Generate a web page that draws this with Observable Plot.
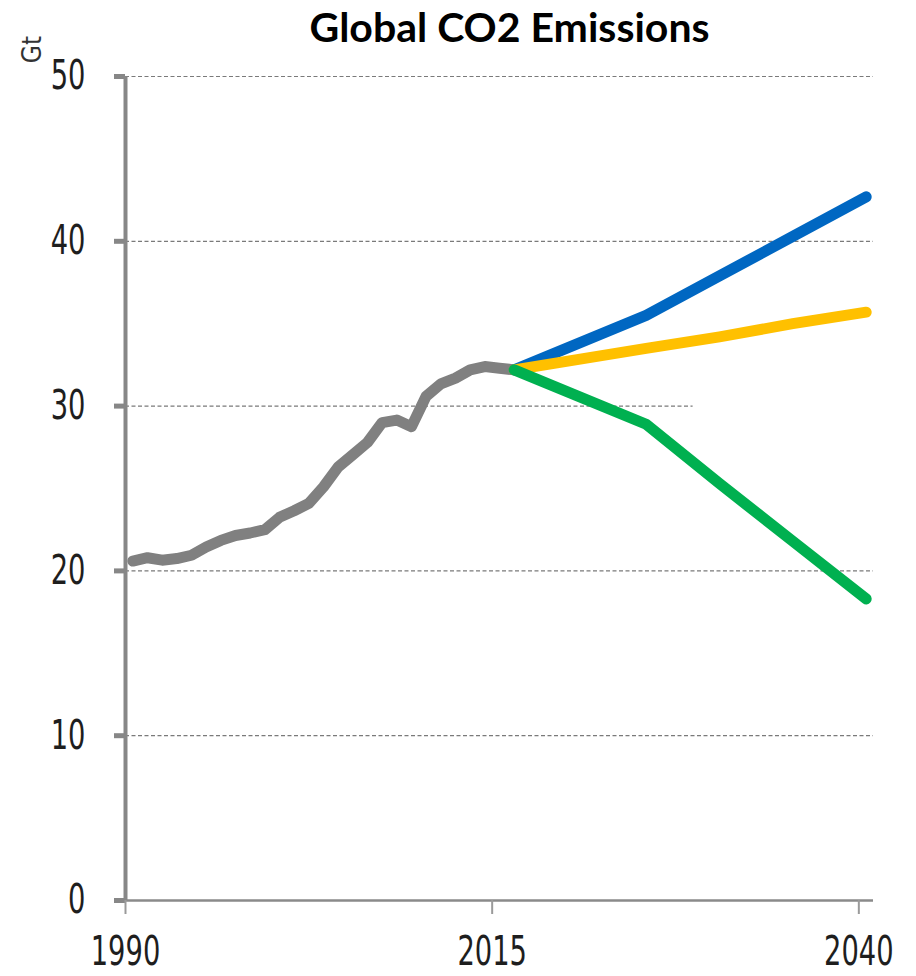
<!DOCTYPE html>
<html>
<head>
<meta charset="utf-8">
<script src="https://cdn.jsdelivr.net/npm/d3@7"></script>
<script src="https://cdn.jsdelivr.net/npm/@observablehq/plot@0.6"></script>
<style>
  html, body { margin: 0; padding: 0; background: #fff; }
  #chart svg { display: block; }
</style>
</head>
<body>
<div id="chart"></div>
<script>
// ---- data ----
const title = "Global CO2 Emissions";
const unitLabel = "Gt";

const histYears = [1990,1991,1992,1993,1994,1995,1996,1997,1998,1999,2000,2001,2002,2003,2004,2005,2006,2007,2008,2009,2010,2011,2012,2013,2014,2015,2016];
const histValues = [20.6,20.8,20.65,20.75,20.95,21.45,21.85,22.15,22.3,22.5,23.25,23.65,24.1,25.1,26.3,27.05,27.8,29.0,29.15,28.75,30.6,31.35,31.7,32.2,32.4,32.3,32.2];

const scenarioYears = [2016, 2025, 2030, 2035, 2040];
const blueValues   = [32.2, 35.5, 37.9, 40.3, 42.7];
const yellowValues = [32.2, 33.5, 34.2, 35.0, 35.7];
const greenValues  = [32.2, 28.9, 25.3, 21.8, 18.3];

const xTicks = [1990, 2015, 2040];
const yTicks = [0, 10, 20, 30, 40, 50];
const gridValues = [10, 20, 30, 40, 50];
const gridEnds = [2041, 2041, 2028.7, 2041, 2041];
const xDomain = [1990, 2041];

// ---- tables ----
const hist = histYears.map((year, i) => ({year, value: histValues[i]}));
const series = (vals) => scenarioYears.map((year, i) => ({year, value: vals[i]}));
const grid = gridValues.map((v, i) => ({v, end: gridEnds[i]}));

// each year is drawn at the centre of its one-year category
const xc = d => d.year + 0.5;

const numFont = "'DejaVu Sans Condensed', 'DejaVu Sans', sans-serif";
const lineOpts = {strokeWidth: 11, strokeLinecap: "round", strokeLinejoin: "round"};

const chart = Plot.plot({
  width: 916,
  height: 976,
  marginLeft: 125,
  marginRight: 43,
  marginTop: 76,
  marginBottom: 76,
  x: {type: "linear", domain: xDomain},
  y: {domain: [0, 50]},
  style: {fontFamily: numFont, background: "#fff", overflow: "visible"},
  marks: [
    Plot.ruleY(grid, {y: "v", x1: xDomain[0], x2: "end", stroke: "#7a7a7a", strokeWidth: 1.2, strokeDasharray: "4,2.5"}),
    Plot.line(hist, {x: xc, y: "value", stroke: "#808080", ...lineOpts}),
    Plot.line(series(blueValues), {x: xc, y: "value", stroke: "#0067C2", ...lineOpts}),
    Plot.line(series(yellowValues), {x: xc, y: "value", stroke: "#FFC000", ...lineOpts}),
    Plot.line(series(greenValues), {x: xc, y: "value", stroke: "#00B050", ...lineOpts}),
    Plot.ruleY([0], {x1: xDomain[0], x2: xDomain[1], stroke: "#8a8a8a", strokeWidth: 2.5}),
    Plot.ruleX([xDomain[0]], {y1: 0, y2: 50, stroke: "#878787", strokeWidth: 4}),
    Plot.axisY({ticks: yTicks, tickSize: 11, tickPadding: 29, stroke: "#878787", strokeWidth: 5, fill: "#1e1e1e", fontSize: 40, label: null, ariaLabel: "y-axis"}),
    Plot.axisX({ticks: xTicks, tickSize: 14, tickPadding: 22, stroke: "#9a9a9a", strokeWidth: 2, fill: "#1e1e1e", fontSize: 40, tickFormat: d => String(d), label: null, ariaLabel: "x-axis"}),
    Plot.text([title], {frameAnchor: "top", dx: 10, dy: -48, lineAnchor: "middle", textAnchor: "middle", fontSize: 41, fontWeight: "bold", fontFamily: "Lato, 'Open Sans', sans-serif", fill: "#000"}),
    Plot.text([unitLabel], {frameAnchor: "top-left", dx: -93, dy: -27, rotate: -90, lineAnchor: "middle", textAnchor: "middle", fontSize: 26, fontFamily: "'DejaVu Sans Condensed', 'DejaVu Sans', sans-serif", fill: "#333"})
  ]
});

// the reference's tick numerals are tall and narrow: compress them horizontally
d3.select(chart).selectAll("g[aria-label^='y-axis'] text, g[aria-label^='x-axis'] text")
  .attr("transform", function () { return (this.getAttribute("transform") || "") + " scale(0.76,1)"; });

document.getElementById("chart").appendChild(chart);
</script>
</body>
</html>
